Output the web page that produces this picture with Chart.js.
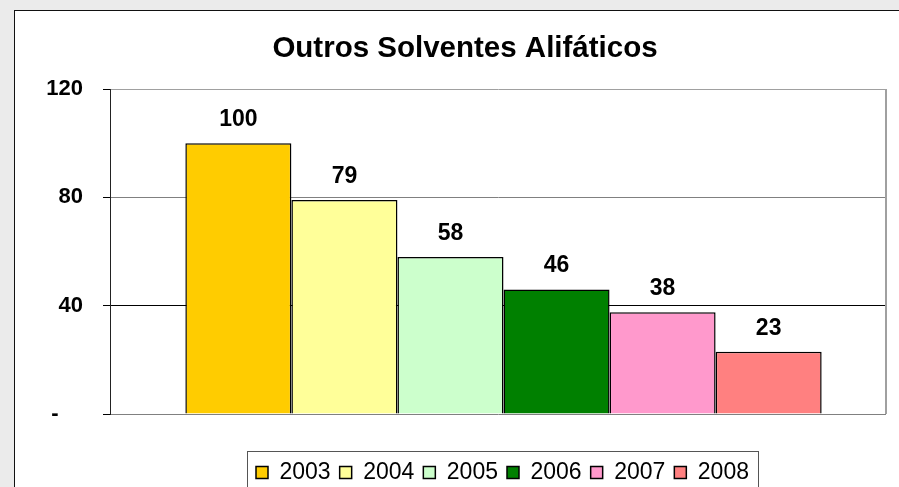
<!DOCTYPE html>
<html>
<head>
<meta charset="utf-8">
<script src="https://cdn.jsdelivr.net/npm/chart.js@4/dist/chart.umd.min.js"></script>
<style>
  html, body { margin: 0; padding: 0; background: #ebebeb; overflow: hidden; }
  #box { position: absolute; left: 0; top: 0; width: 899px; height: 487px; }
</style>
</head>
<body>
<div id="box"><canvas id="grafica"></canvas></div>
<script>
// datos
const titulo = 'Outros Solventes Alifáticos';
const categorias = [''];
const anos = ['2003', '2004', '2005', '2006', '2007', '2008'];
const valores = [100, 79, 58, 46, 37.6, 23];
const cores = ['#FFCC00', '#FFFF99', '#CCFFCC', '#008000', '#FF99CC', '#FF8080'];
const ticksY = [0, 40, 80, 120];

const fonte = "'Liberation Sans', Arial, sans-serif";
Chart.defaults.color = '#000';
Chart.defaults.font.family = fonte;

// fondo gris + recuadro blanco del gráfico
const fondo = {
    id: 'fondo',
    beforeDraw(chart) {
        const ctx = chart.ctx;
        ctx.save();
        ctx.fillStyle = '#ebebeb';
        ctx.fillRect(0, 0, chart.width, chart.height);
        ctx.fillStyle = '#fff';
        ctx.fillRect(14.5, 10.5, chart.width, chart.height);
        ctx.strokeStyle = '#111';
        ctx.lineWidth = 1;
        ctx.strokeRect(14.5, 10.5, chart.width + 10, chart.height + 10);
        ctx.restore();
    },
    beforeDatasetsDraw(chart) {
        // borde derecho del área de trazado
        const a = chart.chartArea;
        const ctx = chart.ctx;
        ctx.save();
        ctx.strokeStyle = '#a0a0a0';
        ctx.lineWidth = 2;
        ctx.beginPath();
        ctx.moveTo(a.right, a.top);
        ctx.lineTo(a.right, a.bottom);
        ctx.stroke();
        ctx.restore();
    }
};

// mover título, barras y leyenda a su sitio
const ajustes = {
    id: 'ajustes',
    afterLayout(chart) {
        const tb = chart.titleBlock;
        if (tb) { tb.left += 22; tb.right += 22; }
        const xs = chart.scales.x;
        xs.left += 5.5; xs.right += 5.5;
        xs.configure();
        const lg = chart.legend;
        if (!lg) return;
        const pad = lg.options.labels.padding;
        const x0 = (lg.left + pad + lg.right - lg.lineWidths[0]) / 2;
        const dx = 256 - x0;
        const dy = 452 - lg.top;
        lg.left += dx; lg.right += dx;
        lg.top += dy; lg.bottom += dy;
    },
    afterDraw(chart) {
        const lg = chart.legend;
        const hb = lg.legendHitBoxes;
        if (!hb || !hb.length) return;
        const last = hb[hb.length - 1];
        const ctx = chart.ctx;
        ctx.save();
        ctx.strokeStyle = '#555';
        ctx.lineWidth = 1;
        ctx.strokeRect(Math.round(hb[0].left - 9) + 0.5, Math.round(lg.top - 1) + 0.5,
            Math.round(last.left + last.width - hb[0].left + 18), 80);
        ctx.restore();
    }
};

// etiquetas de valor encima de cada barra
const etiquetas = {
    id: 'etiquetas',
    afterDatasetsDraw(chart) {
        const ctx = chart.ctx;
        ctx.save();
        ctx.font = 'bold 23px ' + fonte;
        ctx.fillStyle = '#000';
        ctx.textAlign = 'center';
        ctx.textBaseline = 'alphabetic';
        chart.data.datasets.forEach((ds, i) => {
            const bar = chart.getDatasetMeta(i).data[0];
            ctx.fillText(String(Math.round(ds.data[0])), bar.x, bar.y - 17);
        });
        ctx.restore();
    }
};

const corGrade = v => v === 120 ? '#a0a0a0' : (v === 40 ? '#000' : '#808080');

new Chart(document.getElementById('grafica').getContext('2d'), {
    type: 'bar',
    data: {
        labels: categorias,
        datasets: anos.map((a, i) => ({
            label: a,
            data: [valores[i]],
            backgroundColor: cores[i],
            borderColor: '#000',
            borderWidth: 1.5,
            categoryPercentage: 0.82,
            barPercentage: 1
        }))
    },
    options: {
        responsive: true,
        maintainAspectRatio: false,
        animation: false,
        devicePixelRatio: 1,
        layout: { padding: { left: 0, right: 13, top: 0, bottom: 31 } },
        plugins: {
            title: {
                display: true,
                text: titulo,
                font: { size: 29.5, weight: 'bold', family: fonte },
                color: '#000',
                padding: { top: 31, bottom: 22.6 }
            },
            legend: {
                position: 'bottom',
                labels: {
                    boxWidth: 12,
                    boxHeight: 12,
                    padding: 9,
                    font: { size: 23, family: fonte },
                    color: '#000'
                }
            },
            tooltip: { enabled: false }
        },
        scales: {
            x: { display: false },
            y: {
                min: 0,
                max: 120,
                afterFit(scale) { scale.width = 110; },
                afterBuildTicks(scale) { scale.ticks = ticksY.map(v => ({ value: v })); },
                ticks: {
                    font: { size: 22, weight: 'bold', family: fonte },
                    color: '#000',
                    padding: 20,
                    callback: v => v === 0 ? '-    ' : String(v)
                },
                grid: {
                    color: ctx => corGrade(ctx.tick.value),
                    tickColor: '#000',
                    tickLength: 7,
                    lineWidth: 1
                },
                border: { color: '#222', width: 1 }
            }
        }
    },
    plugins: [fondo, ajustes, etiquetas]
});
</script>
</body>
</html>
